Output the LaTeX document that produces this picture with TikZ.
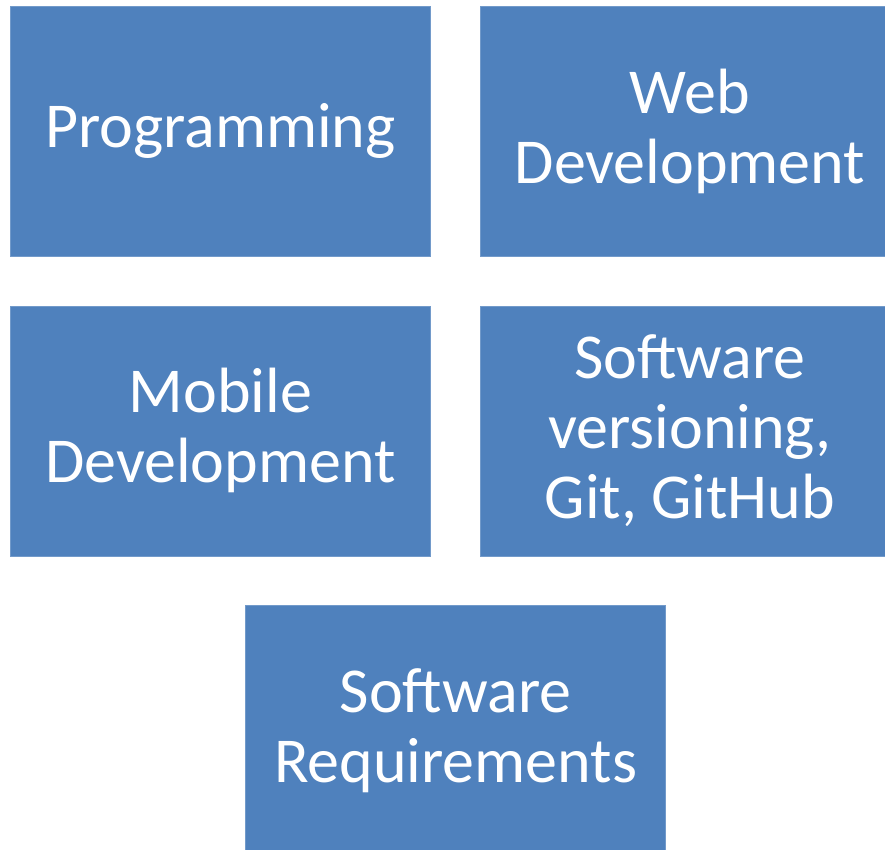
\documentclass[tikz,border=0pt]{standalone}
\usepackage{fontspec}
\setmainfont{Carlito}
\usepackage{xcolor}
\usetikzlibrary{positioning}
\definecolor{boxblue}{HTML}{4F81BD}
\frenchspacing

\begin{document}
\begin{tikzpicture}[x=1pt,y=1pt,node distance=49pt]
	\tikzstyle{topic}=[fill=boxblue, draw=boxblue!80!white, line width=0.6pt, text=white,
		minimum width=420pt, minimum height=250pt, text width=410pt, align=center,
		inner sep=0pt, font=\fontsize{64}{70}\selectfont]
	\useasboundingbox (0,0) rectangle (885,849);
	\node[topic, anchor=north west] (prog) at (10,843) {Programming};
	\node[topic] (web) [right=of prog] {Web\\Development};
	\node[topic] (mobile) [below=of prog] {Mobile\\Development};
	\node[topic] (git) [below=of web] {Software\\versioning,\\Git,\hspace{-7pt} GitHub};
	\node[topic, anchor=north, xshift=25pt] (req) [below=of mobile.south east] {Software\\Requirements};
\end{tikzpicture}
\end{document}
